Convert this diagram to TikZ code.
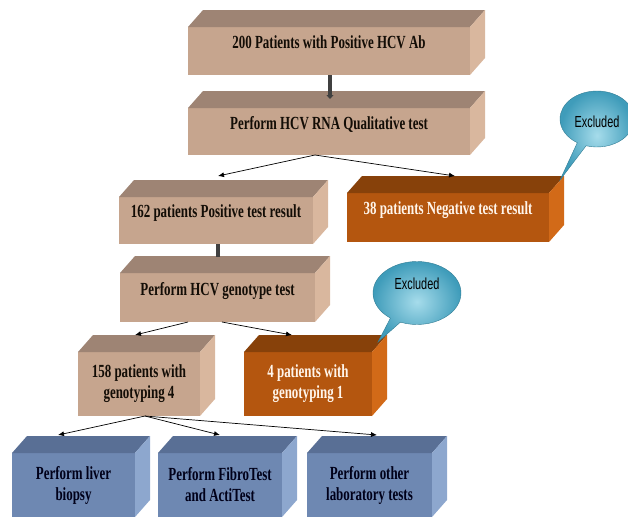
\documentclass[tikz,border=0pt]{standalone}
\usepackage{fontspec}
\newfontfamily\boxfont{Liberation Serif}[FakeStretch=0.70]
\newfontfamily\notefont{Liberation Sans}[FakeStretch=0.68]
\usetikzlibrary{arrows.meta,shapes.callouts}
\definecolor{tanfront}{HTML}{C6A58E}
\definecolor{tantop}{HTML}{9E8474}
\definecolor{tanside}{HTML}{D9B79E}
\definecolor{orgfront}{HTML}{B4560F}
\definecolor{orgtop}{HTML}{87410A}
\definecolor{orgside}{HTML}{D26A18}
\definecolor{bluefront}{HTML}{6E88B2}
\definecolor{bluetop}{HTML}{596F95}
\definecolor{blueside}{HTML}{8DA7CE}
\definecolor{bubblein}{HTML}{A6DCEB}
\definecolor{bubbleout}{HTML}{3F9CBA}

\begin{document}
\begin{tikzpicture}[
   x=1pt, y=-1pt,
   box/.style={rectangle, inner sep=2pt, outer sep=0pt, align=center,
      font=\boxfont\bfseries\fontsize{18.5}{21}\selectfont},
   single/.style={text depth=18pt},
   tanbox/.style={box, fill=tanfront, text=black!90!brown},
   orgbox/.style={box, fill=orgfront, text=white!92!orange},
   bluebox/.style={box, fill=bluefront, text=black!90!blue},
   arrow/.style={-{Latex[length=6pt,width=5pt]}, line width=0.7pt},
   bar/.style={line width=3.5pt, draw=black!75},
   bubble/.style={ellipse callout, inner color=bubblein, outer color=bubbleout,
      draw=bubbleout!80!black, thin, font=\notefont\fontsize{16}{18}\selectfont}
]
\clip (0,0) rectangle (628,517);

% Screening
\node[tanbox, single, minimum width=282, minimum height=48] (top) at (329,51) {200 Patients with Positive HCV Ab};
\node[tanbox, single, minimum width=282, minimum height=47] (rna) at (329,131.5) {Perform HCV RNA Qualitative test};

% RNA result
\node[tanbox, single, minimum width=194, minimum height=47] (pos) at (216,220.5) {162 patients Positive test result};
\node[orgbox, single, minimum width=202, minimum height=49] (neg) at (448,217.5) {38 patients Negative test result};

% Genotype
\node[tanbox, single, minimum width=195, minimum height=49] (geno) at (217.5,297.5) {Perform HCV genotype test};
\node[tanbox, minimum width=122, minimum height=64] (gfour) at (139,384) {158 patients with\\genotyping 4};
\node[orgbox, minimum width=128, minimum height=64] (gone) at (308,384) {4 patients with\\genotyping 1};

% Further tests
\node[bluebox, minimum width=123, minimum height=64] (biopsy) at (73.5,485) {Perform liver\\biopsy};
\node[bluebox, minimum width=124, minimum height=64] (fibro) at (220,485) {Perform FibroTest\\and ActiTest};
\node[bluebox, minimum width=125, minimum height=64] (other) at (369.5,485) {Perform other\\laboratory tests};

% Top and side faces
\foreach \n/\t/\s in {top/tantop/tanside, rna/tantop/tanside, pos/tantop/tanside,
   neg/orgtop/orgside, geno/tantop/tanside, gfour/tantop/tanside, gone/orgtop/orgside,
   biopsy/bluetop/blueside, fibro/bluetop/blueside, other/bluetop/blueside} {
  \fill[\t] (\n.north west) -- ++(15,-17) -- ([shift={(15,-17)}]\n.north east) -- (\n.north east) -- cycle;
  \fill[\s] (\n.north east) -- ++(15,-17) -- ([shift={(15,-17)}]\n.south east) -- (\n.south east) -- cycle;
}

% Connectors
\draw[bar, -{Triangle[length=4pt,width=7pt]}, shorten >=9pt] ([xshift=1pt]top.south) -- ([xshift=1pt]rna.north);
\draw[arrow] ([xshift=-14pt]rna.south) -- ([xshift=2pt,yshift=21pt]pos.north);
\draw[arrow] ([xshift=-14pt]rna.south) -- ([xshift=7pt,yshift=17pt]neg.north);
\draw[bar, shorten >=16pt] ([xshift=2pt]pos.south) -- ([xshift=0.5pt]geno.north);
\draw[arrow] ([xshift=-29.5pt]geno.south) -- ([xshift=-4pt,yshift=17pt]gfour.north);
\draw[arrow] ([xshift=4.5pt]geno.south) -- ([xshift=-16pt,yshift=17pt]gone.north);
\draw[arrow] ([xshift=6pt]gfour.south) -- ([xshift=-15.5pt,yshift=18pt]biopsy.north);
\draw[arrow] ([xshift=6pt]gfour.south) -- ([yshift=18pt]fibro.north);
\draw[arrow] ([xshift=6pt]gfour.south) -- ([xshift=7.5pt,yshift=18pt]other.north);

% Excluded notes
\node[bubble, minimum width=74, minimum height=56, text height=17pt,
   callout absolute pointer={([xshift=11pt,yshift=13pt]neg.north east)}] (excone) at (597,119) {Excluded};
\node[bubble, minimum width=88, minimum height=63, text depth=18pt,
   callout absolute pointer={([xshift=6pt,yshift=10pt]gone.north east)}] (exctwo) at (417,293) {Excluded};

\end{tikzpicture}
\end{document}
